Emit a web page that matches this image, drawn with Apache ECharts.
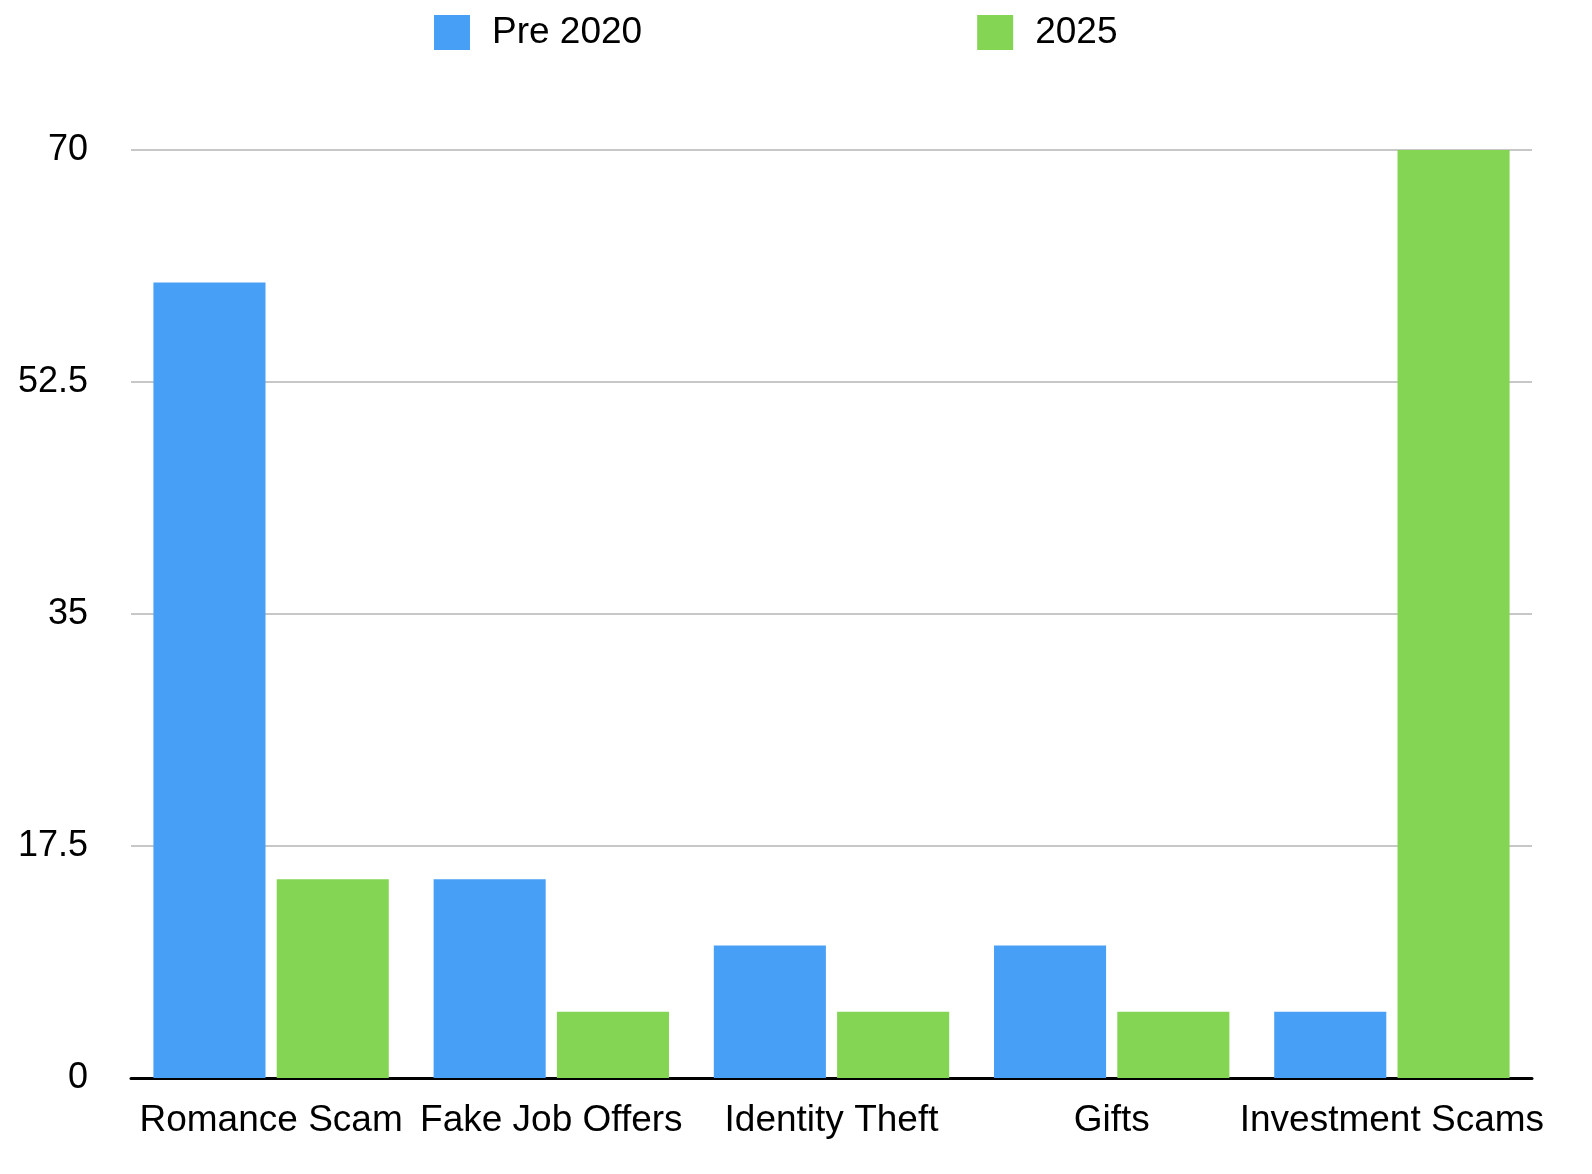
<!DOCTYPE html>
<html>
<head>
<meta charset="utf-8">
<script src="https://cdn.jsdelivr.net/npm/echarts@6/dist/echarts.min.js"></script>
<style>
html,body{margin:0;padding:0;background:#fff;}
#chart{width:1592px;height:1174px;}
</style>
</head>
<body>
<div id="chart"></div>
<script>
const categories = ["Romance Scam", "Fake Job Offers", "Identity Theft", "Gifts", "Investment Scams"];
const pre2020 = [60, 15, 10, 10, 5];
const y2025 = [15, 5, 5, 5, 70];
const yTicks = [0, 17.5, 35, 52.5, 70];

const FONT = '"Liberation Sans", Arial, Helvetica, sans-serif';
const chart = echarts.init(document.getElementById('chart'));
chart.setOption({
  animation: false,
  backgroundColor: '#ffffff',
  legend: {
    left: 429,
    top: 9,
    itemWidth: 36,
    itemHeight: 35,
    itemGap: 335,
    icon: 'rect',
    textStyle: { fontFamily: FONT, fontSize: 37, color: '#000', padding: [0, 0, 0, 17] },
    data: ['Pre 2020', '2025']
  },
  grid: { left: 131, right: 60, top: 150, bottom: 96, containLabel: false },
  xAxis: {
    type: 'category',
    data: categories,
    axisLine: { lineStyle: { color: '#000', width: 3 } },
    axisTick: { show: false },
    axisLabel: { fontFamily: FONT, fontSize: 37, color: '#000', margin: 24, interval: 0 }
  },
  yAxis: {
    type: 'value',
    min: yTicks[0],
    max: yTicks[yTicks.length - 1],
    interval: yTicks[1] - yTicks[0],
    axisLine: { show: false },
    axisTick: { show: false },
    splitLine: { lineStyle: { color: '#b5b5b5', width: 1.5 } },
    axisLabel: { fontFamily: FONT, fontSize: 36, color: '#000', margin: 43 }
  },
  series: [
    { name: 'Pre 2020', type: 'bar', data: pre2020, barWidth: '40%', barGap: '10%', itemStyle: { color: '#489ff6' } },
    { name: '2025', type: 'bar', data: y2025, barWidth: '40%', barGap: '10%', itemStyle: { color: '#84d554' } }
  ]
});
</script>
</body>
</html>
